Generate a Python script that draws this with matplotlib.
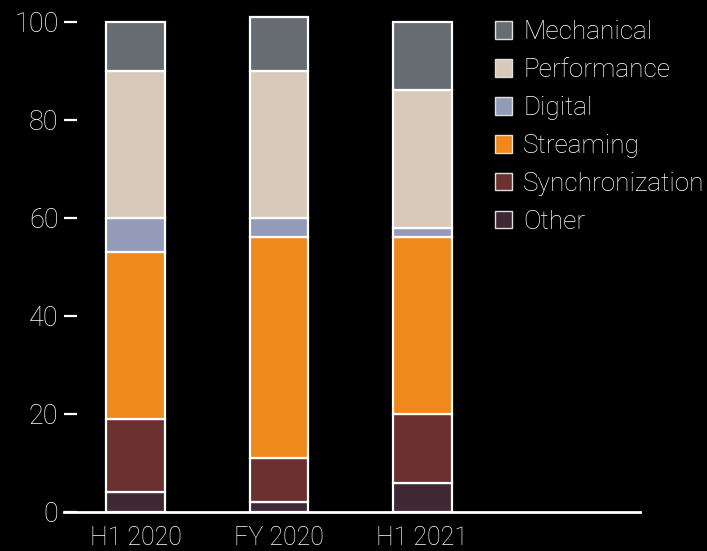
import numpy as np
import matplotlib
matplotlib.use("Agg")
import matplotlib.pyplot as plt

BG, FG = "#000000", "#FFFFFF"
plt.rcParams.update({
    "font.family": ["Roboto", "DejaVu Sans"],
    "font.weight": "light",
    "figure.facecolor": BG, "axes.facecolor": BG, "savefig.facecolor": BG,
    "text.color": FG, "xtick.color": FG, "ytick.color": FG,
})

periods = ["H1 2020", "FY 2020", "H1 2021"]
# stacking order bottom -> top
segments = ["Other", "Synchronization", "Streaming", "Digital", "Performance", "Mechanical"]
other = [4, 2, 6]
synchronization = [15, 9, 14]
streaming = [34, 45, 36]
digital = [7, 4, 2]
performance = [30, 30, 28]
mechanical = [10, 11, 14]
values = [other, synchronization, streaming, digital, performance, mechanical]
colors = ["#3E2833", "#6B3030", "#F0891D", "#939BB8", "#D9C9BA", "#676B72"]

fig = plt.figure(figsize=(7.07, 5.51), dpi=100)
ax = fig.add_axes([64 / 707, 39 / 551, (640 - 64) / 707, 500 / 551])

x = np.arange(len(periods))
bottom = np.zeros(len(periods))
handles = []
for name, vals, col in zip(segments, values, colors):
    b = ax.bar(x, vals, bottom=bottom, width=0.41, color=col,
               edgecolor=FG, linewidth=1.6, label=name)
    handles.append(b)
    bottom += np.array(vals)

ax.set_xlim(-0.5, 3.52)
ax.set_ylim(0, 102)
ax.set_xticks(x)
ax.set_xticklabels(periods, fontsize=18)
ax.set_yticks([0, 20, 40, 60, 80, 100])
ax.tick_params(axis="y", direction="in", length=9.5, width=1.6, pad=4, labelsize=19.5)
ax.tick_params(axis="x", length=0, pad=10)
for s in ["top", "right", "left"]:
    ax.spines[s].set_visible(False)
ax.spines["bottom"].set_color(FG)
ax.spines["bottom"].set_linewidth(2)

leg = fig.legend(handles[::-1], segments[::-1], loc="upper left",
                 bbox_to_anchor=(0.700, 0.963), frameon=False, fontsize=18.8,
                 handlelength=0.66, handleheight=0.66, handletextpad=0.42,
                 labelspacing=0.53, borderpad=0, borderaxespad=0)
for h in leg.legend_handles:
    h.set_edgecolor("#DDDDDD")
    h.set_linewidth(1)

fig.savefig("out.png", dpi=100)
